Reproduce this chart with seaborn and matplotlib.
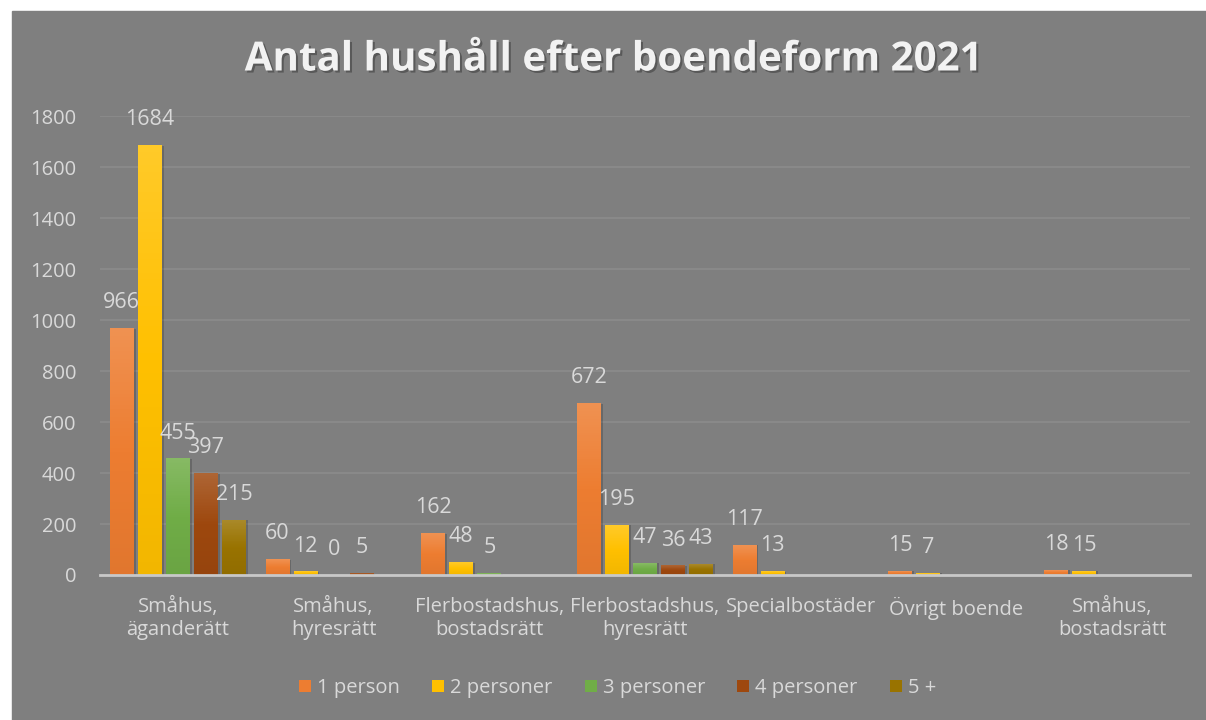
import matplotlib.pyplot as plt
import matplotlib.patheffects as pe
from matplotlib.patches import Rectangle, Patch
from matplotlib.colors import LinearSegmentedColormap, to_rgb
import seaborn as sns
import pandas as pd
import numpy as np

categories = ["Småhus,\näganderätt", "Småhus,\nhyresrätt", "Flerbostadshus,\nbostadsrätt",
              "Flerbostadshus,\nhyresrätt", "Specialbostäder", "Övrigt boende", "Småhus,\nbostadsrätt"]
series = ["1 person", "2 personer", "3 personer", "4 personer", "5 +"]
p1 = [966, 60, 162, 672, 117, 15, 18]
p2 = [1684, 12, 48, 195, 13, 7, 15]
p3 = [455, 0, 5, 47, np.nan, np.nan, np.nan]
p4 = [397, 5, np.nan, 36, np.nan, np.nan, np.nan]
p5 = [215, np.nan, np.nan, 43, np.nan, np.nan, np.nan]
colors = ["#ED7D31", "#FFC000", "#70AD47", "#9E480E", "#997300"]

rows = []
for s, vals in zip(series, [p1, p2, p3, p4, p5]):
    for c, v in zip(categories, vals):
        rows.append({"cat": c, "serie": s, "antal": v})
df = pd.DataFrame(rows).dropna()

txt = "#d9d9d9"
bg = "#7f7f7f"
font = ["Open Sans", "DejaVu Sans"]
plt.rcParams["font.family"] = font

fig = plt.figure(figsize=(12.06, 7.2), dpi=100)
fig.patch.set_facecolor("white")
fig.patches.append(Rectangle((12 / 1206, 0), 1 - 12 / 1206, 1 - 11 / 720,
                             transform=fig.transFigure, color=bg, zorder=-10))
ax = fig.add_axes([100 / 1206, 1 - 575 / 720, 1090 / 1206, (575 - 116) / 720])
ax.set_facecolor("none")

sns.barplot(data=df, x="cat", y="antal", hue="serie", order=categories, hue_order=series,
            palette=colors, saturation=1, width=0.9, gap=0.15, errorbar=None, legend=False,
            ax=ax, zorder=3)

ax.set_ylim(0, 1800)
ax.set_xlim(-0.5, len(categories) - 0.5)
ax.set_yticks(range(0, 1801, 200))
ax.grid(axis="y", color="#8c8c8c", lw=1.2, zorder=0)
ax.set_axisbelow(True)
for sp in ["top", "right", "left"]:
    ax.spines[sp].set_visible(False)
ax.spines["bottom"].set_color("#c8c8c8")
ax.spines["bottom"].set_linewidth(2)
ax.spines["bottom"].set_zorder(5)
ax.tick_params(length=0, colors=txt, labelsize=14.5)
ax.tick_params(axis="y", pad=17)
ax.tick_params(axis="x", pad=16)
ax.set_xlabel("")
ax.set_ylabel("")

# gradient fill + soft shadow for each bar, then value labels
for patch in list(ax.patches):
    x0, w, h = patch.get_x(), patch.get_width(), patch.get_height()
    base = np.array(to_rgb(patch.get_facecolor()))
    light = base + (1 - base) * 0.16
    cmap = LinearSegmentedColormap.from_list("g", [base * 0.95, base, light])
    if h > 0:
        sh = Rectangle((x0 + 0.012, 0), w, h, color="black", alpha=0.18, zorder=2, lw=0)
        ax.add_patch(sh)
        ax.imshow(np.linspace(0, 1, 64).reshape(-1, 1), cmap=cmap, origin="lower",
                  extent=(x0, x0 + w, 0, h), aspect="auto", zorder=3, interpolation="nearest")
        patch.set_alpha(0)
    ax.text(x0 + w / 2, h + 60, f"{int(h)}", ha="center", va="bottom",
            color=txt, fontsize=15.5, zorder=6)
ax.set_xlim(-0.5, len(categories) - 0.5)
ax.set_ylim(0, 1800)

fig.text(0.508, 1 - 60 / 720, "Antal hushåll efter boendeform 2021", ha="center", va="center",
         fontsize=29, fontweight="bold", color="#f2f2f2",
         path_effects=[pe.withSimplePatchShadow(offset=(1.5, -1.5), shadow_rgbFace="#404040", alpha=0.6)])

handles = [Patch(facecolor=c, label=s) for c, s in zip(colors, series)]
fig.legend(handles=handles, loc="center", bbox_to_anchor=(0.512, 1 - 688 / 720), ncol=5,
           frameon=False, fontsize=14.5, labelcolor=txt, handlelength=0.6, handleheight=0.6,
           handletextpad=0.3, columnspacing=1.6)

fig.savefig("out.png", dpi=100, facecolor=fig.get_facecolor())
